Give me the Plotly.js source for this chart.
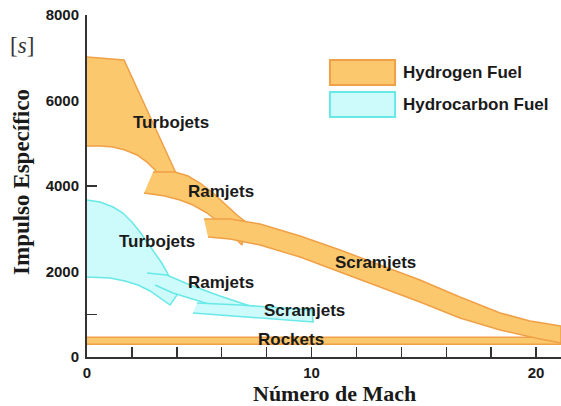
<!DOCTYPE html>
<html>
<head>
<meta charset="utf-8">
<script src="https://cdn.plot.ly/plotly-3.0.1.min.js"></script>
<style>html,body{margin:0;padding:0;background:#fff;}#chart{width:561px;height:406px;}</style>
</head>
<body>
<div id="chart"></div>
<script>
// ---- Data (Mach number, specific impulse in s) ----
const rocketsMach = [0, 21.11, 21.11, 0];
const rocketsIsp  = [460, 460, 300, 300];

const h2TurboMach = [0, 1.65, 3.96, 3.12, 3.03, 2.67, 2.23, 1.69, 1.16, 0.58, 0];
const h2TurboIsp  = [7017, 6947, 4304, 4304, 4374, 4561, 4725, 4842, 4912, 4935, 4935];

const h2RamMach = [2.94, 3.92, 4.50, 5.03, 5.61, 6.15, 6.68, 7.13,
                   6.90, 6.50, 6.01, 5.35, 4.72, 4.14, 3.47, 2.54];
const h2RamIsp  = [4327, 4327, 4234, 4070, 3836, 3579, 3321, 3134,
                   2620, 2830, 3088, 3368, 3555, 3672, 3766, 3836];

const h2ScramMach = [5.21, 6.37, 7.71, 9.49, 11.27, 13.05, 14.83, 16.61, 18.40, 19.73, 21.11,
                     21.11, 19.96, 18.40, 16.61, 14.83, 13.05, 11.27, 9.49, 7.71, 6.37, 5.39];
const h2ScramIsp  = [3228, 3228, 3111, 2830, 2503, 2152, 1801, 1403, 1029, 842, 725,
                     327, 444, 632, 912, 1286, 1637, 1988, 2339, 2620, 2760, 2807];

const hcTurboMach = [0, 0.58, 1.16, 1.60, 2.00, 2.36, 2.67, 2.98, 3.30, 3.56, 3.79, 4.01,
                     3.70, 3.25, 2.81, 2.27, 1.69, 1.02, 0];
const hcTurboIsp  = [3672, 3625, 3509, 3368, 3158, 2924, 2690, 2456, 2222, 1988, 1731, 1450,
                     1216, 1380, 1544, 1684, 1778, 1848, 1871];

const hcRamMach = [2.67, 3.56, 4.59, 5.92, 7.26, 6.73, 5.70, 4.59, 3.83, 3.03];
const hcRamIsp  = [1965, 1918, 1684, 1427, 1193, 1053, 1193, 1380, 1497, 1684];

const hcScramMach = [4.90, 6.82, 10.02, 10.07, 4.72];
const hcScramIsp  = [1263, 1216, 1099, 819, 1029];

const regionLabels = ['Turbojets', 'Ramjets', 'Scramjets', 'Turbojets', 'Ramjets', 'Scramjets', 'Rockets'];
const labelMach    = [3.74, 5.97, 12.87, 3.12, 5.97, 9.67, 9.09];
const labelIsp     = [5497, 3883, 2222, 2713, 1754, 1099, 421];

const legendNames = ['Hydrogen Fuel', 'Hydrocarbon Fuel'];
const xTickVals = [0, 10, 20];
const yTickVals = [0, 2000, 4000, 6000, 8000];

// ---- Styles ----
const H2_FILL = 'rgb(252,200,110)', H2_LINE = 'rgb(240,160,70)';
const HC_FILL = 'rgb(205,250,250)', HC_LINE = 'rgb(105,232,232)';
const TXT = '#1a1a1a';

function poly(x, y, fill, line) {
  return {x: x, y: y, type: 'scatter', mode: 'lines', fill: 'toself', fillcolor: fill,
          line: {color: line, width: 1.5}, hoverinfo: 'skip', showlegend: false};
}

const traces = [
  poly(rocketsMach, rocketsIsp, H2_FILL, H2_LINE),
  poly(h2TurboMach, h2TurboIsp, H2_FILL, H2_LINE),
  poly(h2RamMach, h2RamIsp, H2_FILL, H2_LINE),
  poly(h2ScramMach, h2ScramIsp, H2_FILL, H2_LINE),
  poly(hcTurboMach, hcTurboIsp, HC_FILL, HC_LINE),
  poly(hcRamMach, hcRamIsp, HC_FILL, HC_LINE),
  poly(hcScramMach, hcScramIsp, HC_FILL, HC_LINE)
];

const sansBold = {family: 'Liberation Sans, Arial, sans-serif', size: 17, color: TXT, weight: 'bold'};
const annotations = regionLabels.map((t, i) => ({
  x: labelMach[i], y: labelIsp[i], xref: 'x', yref: 'y', text: t, showarrow: false,
  font: sansBold, xanchor: 'center', yanchor: 'middle'
}));

// legend entries
const legX0 = 10.82, legX1 = 13.72, legTextX = 13.98;
const legY = [[6362, 6947], [5614, 6198]];
const legFill = [H2_FILL, HC_FILL], legLine = [H2_LINE, HC_LINE];
const shapes = [];
legendNames.forEach((n, i) => {
  shapes.push({type: 'rect', xref: 'x', yref: 'y', x0: legX0, x1: legX1, y0: legY[i][0], y1: legY[i][1],
               fillcolor: legFill[i], line: {color: legLine[i], width: 2}, layer: 'above'});
  annotations.push({x: legTextX, y: (legY[i][0] + legY[i][1]) / 2, xref: 'x', yref: 'y', text: n,
                    showarrow: false, xanchor: 'left', yanchor: 'middle', font: sansBold});
});

// axis titles
const serifBold = {family: 'Liberation Serif, Times New Roman, serif', size: 22, color: TXT, weight: 'bold'};
annotations.push({xref: 'paper', yref: 'paper', x: 0.523, y: -0.106, text: 'Número de Mach',
                  showarrow: false, xanchor: 'center', yanchor: 'middle', font: serifBold});
annotations.push({xref: 'paper', yref: 'paper', x: -0.137, y: 0.512, text: 'Impulso Específico',
                  showarrow: false, xanchor: 'center', yanchor: 'middle', textangle: -90,
                  font: Object.assign({}, serifBold, {size: 23})});
annotations.push({xref: 'paper', yref: 'paper', x: -0.137, y: 0.912, text: '[<i>s</i>]',
                  showarrow: false, xanchor: 'center', yanchor: 'middle',
                  font: {family: 'Liberation Serif, Times New Roman, serif', size: 23, color: '#333'}});

const tickFont = {family: 'Liberation Sans, Arial, sans-serif', size: 15, color: TXT, weight: 'bold'};

const layout = {
  width: 561, height: 406,
  margin: {l: 87, r: 0, t: 15, b: 49},
  paper_bgcolor: '#fff', plot_bgcolor: '#fff',
  showlegend: false,
  xaxis: {range: [0, 21.11], tickvals: xTickVals, ticks: 'inside', ticklen: 10, tickwidth: 1.5,
          tickcolor: '#333', showline: true, linecolor: '#333', linewidth: 2, showgrid: false,
          zeroline: false, tickfont: tickFont, ticklabelstandoff: 1, layer: 'below traces',
          minor: {dtick: 2, ticks: 'inside', ticklen: 10, tickwidth: 1.5, tickcolor: '#333', showgrid: false}},
  yaxis: {range: [0, 8000], tickvals: yTickVals, ticks: 'inside', ticklen: 10, tickwidth: 1.5,
          tickcolor: '#333', showline: true, linecolor: '#333', linewidth: 2, showgrid: false,
          zeroline: false, tickfont: tickFont, ticklabelstandoff: 3, layer: 'below traces',
          minor: {dtick: 1000, ticks: 'inside', ticklen: 10, tickwidth: 1.5, tickcolor: '#333', showgrid: false}},
  annotations: annotations,
  shapes: shapes
};

Plotly.newPlot('chart', traces, layout, {displayModeBar: false, staticPlot: true});
</script>
</body>
</html>
